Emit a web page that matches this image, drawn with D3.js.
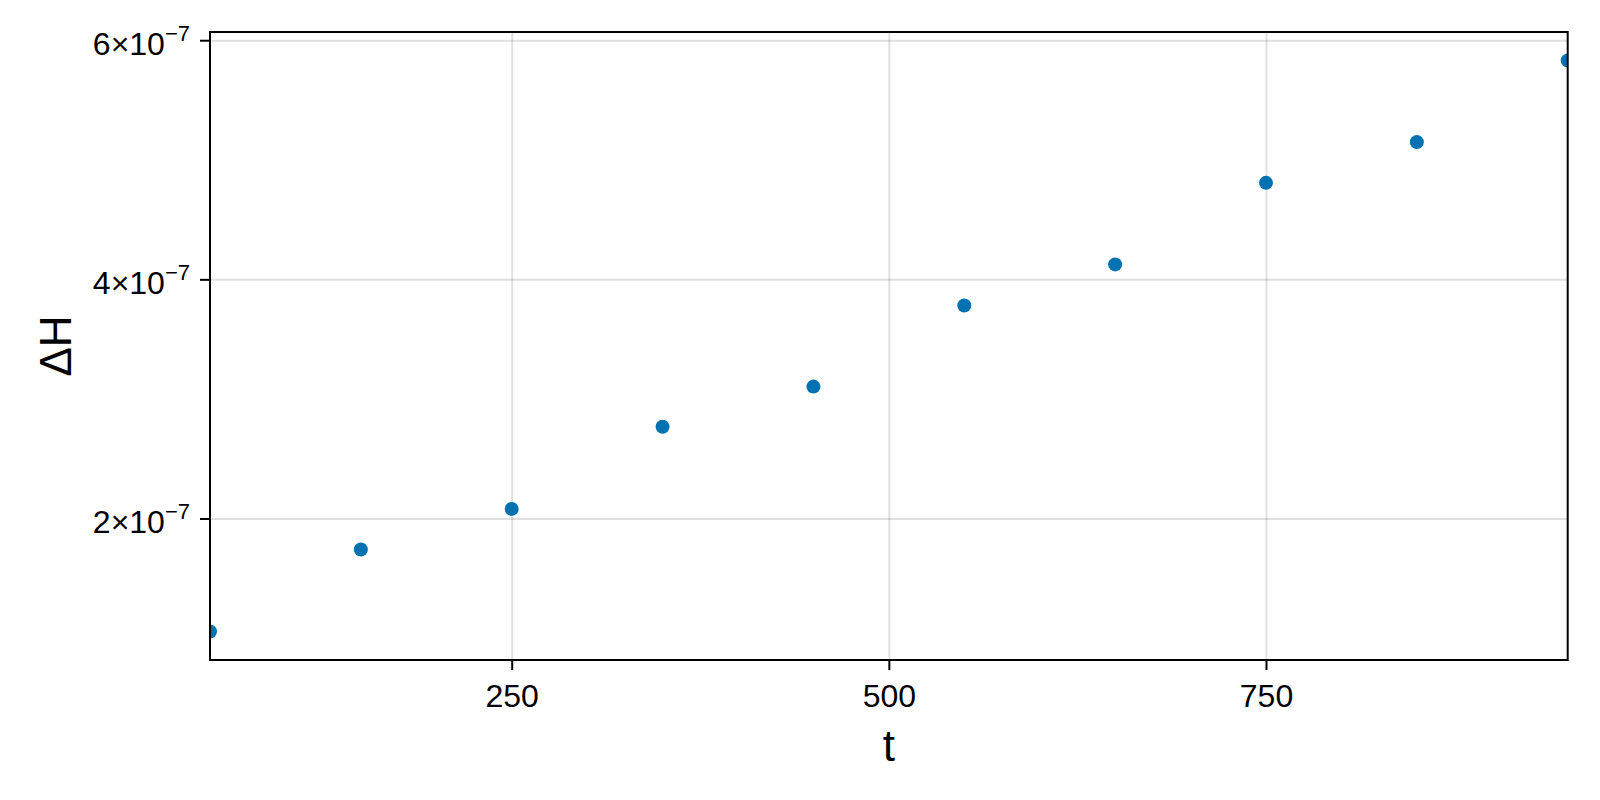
<!DOCTYPE html>
<html>
<head>
<meta charset="utf-8">
<script src="https://cdn.jsdelivr.net/npm/d3@7"></script>
<style>
  body { margin: 0; background: #fff; }
  text { font-family: "Liberation Sans", Arial, sans-serif; fill: #000; }
</style>
</head>
<body>
<div id="chart"></div>
<script>
// data
var tValues = [50, 150, 250, 350, 450, 550, 650, 750, 850, 950];
var dHValues = [1.055e-7, 1.740e-7, 2.080e-7, 2.767e-7, 3.103e-7, 3.781e-7, 4.125e-7, 4.807e-7, 5.148e-7, 5.830e-7];
var xTicks = [250, 500, 750];
var yTicks = [2e-7, 4e-7, 6e-7];
var yTickMantissa = ["2", "4", "6"];

var svgWidth = 1600;
var svgHeight = 800;

var margin = {
  top: 32,
  right: 32.3,
  bottom: 140,
  left: 210
};

var width = svgWidth - margin.left - margin.right;
var height = svgHeight - margin.top - margin.bottom;

var svg = d3.select("#chart")
            .append("svg")
            .attr("width", svgWidth)
            .attr("height", svgHeight);

svg.append("rect")
  .attr("width", svgWidth)
  .attr("height", svgHeight)
  .attr("fill", "#fff");

var chartGroup = svg.append("g")
  .attr("transform", `translate(${margin.left}, ${margin.top})`);

var xScale = d3.scaleLinear()
  .domain([50, 950])
  .range([0, width]);

// 5% padding like the original auto limits
var yMin = d3.min(dHValues), yMax = d3.max(dHValues);
var pad = (yMax - yMin) * 0.05;
var yScale = d3.scaleLinear()
  .domain([yMin - pad, yMax + pad])
  .range([height, 0]);

// grid
chartGroup.append("g")
  .attr("class", "grid")
  .attr("transform", `translate(0, ${height})`)
  .call(d3.axisBottom(xScale).tickValues(xTicks).tickSize(-height).tickFormat(""));

chartGroup.append("g")
  .attr("class", "grid")
  .call(d3.axisLeft(yScale).tickValues(yTicks).tickSize(-width).tickFormat(""));

chartGroup.selectAll(".grid .domain").remove();
chartGroup.selectAll(".grid line")
  .attr("stroke", "#000")
  .attr("stroke-opacity", 0.12)
  .attr("stroke-width", 2);

// points, clipped to the plot area
svg.append("clipPath")
  .attr("id", "plotClip")
  .append("rect")
  .attr("width", width)
  .attr("height", height);

chartGroup.append("g")
  .attr("clip-path", "url(#plotClip)")
  .selectAll("circle")
  .data(tValues)
  .enter()
  .append("circle")
  .attr("cx", d => xScale(d))
  .attr("cy", (d, i) => yScale(dHValues[i]))
  .attr("r", 7)
  .attr("fill", "#0072b2");

// frame
chartGroup.append("rect")
  .attr("width", width)
  .attr("height", height)
  .attr("fill", "none")
  .attr("stroke", "#000")
  .attr("stroke-width", 2);

// axes
var bottomAxis = d3.axisBottom(xScale).tickValues(xTicks).tickSize(10).tickPadding(14);
var xAxisG = chartGroup.append("g")
  .attr("transform", `translate(0, ${height})`)
  .call(bottomAxis);
xAxisG.select(".domain").remove();
xAxisG.selectAll("line").attr("stroke-width", 2);
xAxisG.selectAll("text")
  .attr("font-size", 32)
  .attr("font-family", "Liberation Sans, Arial, sans-serif");

var leftAxis = d3.axisLeft(yScale).tickValues(yTicks).tickSize(10).tickPadding(10).tickFormat("");
var yAxisG = chartGroup.append("g")
  .call(leftAxis);
yAxisG.select(".domain").remove();
yAxisG.selectAll("line").attr("stroke-width", 2);
yAxisG.selectAll(".tick text")
  .attr("font-size", 32)
  .attr("font-family", "Liberation Sans, Arial, sans-serif")
  .attr("dy", "0.45em")
  .each(function(d, i) {
    var t = d3.select(this);
    t.append("tspan").text(yTickMantissa[i] + "\u00d710");
    t.append("tspan").attr("font-size", 22).attr("dy", -14).text("\u22127");
  });

// axis labels
svg.append("text")
  .attr("x", margin.left + width / 2)
  .attr("y", 761)
  .attr("text-anchor", "middle")
  .attr("font-size", 44)
  .text("t");

svg.append("text")
  .attr("transform", `translate(71, ${margin.top + height / 2}) rotate(-90)`)
  .attr("text-anchor", "middle")
  .attr("font-size", 44)
  .text("\u0394H");
</script>
</body>
</html>
